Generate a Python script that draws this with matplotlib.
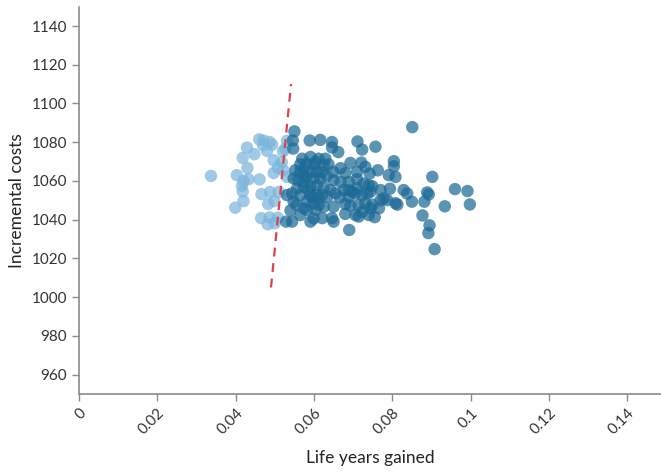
import matplotlib
matplotlib.use("Agg")
import matplotlib.pyplot as plt
import numpy as np

plt.rcParams['font.family'] = ['Lato', 'DejaVu Sans']

# probabilistic sensitivity analysis
# below threshold (light) and above threshold (dark)
light_lyg = [0.0337, 0.0460, 0.0471, 0.0487, 0.0470, 0.0493, 0.0429, 0.0480, 0.0448, 0.0418,
             0.0521, 0.0531, 0.0527, 0.0497, 0.0518, 0.0430, 0.0508, 0.0522, 0.0403, 0.0497,
             0.0531, 0.0433, 0.0461, 0.0420, 0.0416, 0.0418, 0.0466, 0.0488, 0.0510, 0.0420,
             0.0483, 0.0499, 0.0399, 0.0465, 0.0487, 0.0508, 0.0482, 0.0500]
light_cost = [1062.6, 1081.5, 1080.9, 1080.1, 1078.5, 1078.7, 1077.2, 1075.5, 1073.8, 1071.9,
              1075.3, 1080.7, 1076.7, 1070.7, 1069.7, 1066.7, 1066.8, 1065.5, 1063.0, 1064.1,
              1062.1, 1060.9, 1060.8, 1060.1, 1057.5, 1054.6, 1053.2, 1054.3, 1054.3, 1049.6,
              1048.1, 1049.6, 1046.2, 1040.8, 1041.2, 1041.0, 1037.6, 1038.2]

dark_lyg = [0.0851, 0.0550, 0.0546, 0.0547, 0.0589, 0.0616, 0.0646, 0.0646, 0.0662, 0.0711,
            0.0723, 0.0757, 0.0570, 0.0591, 0.0582, 0.0599, 0.0574, 0.0591, 0.0565, 0.0608,
            0.0612, 0.0629, 0.0625, 0.0621, 0.0693, 0.0721, 0.0731, 0.0804, 0.0804, 0.0650,
            0.0680, 0.0710, 0.0742, 0.0763, 0.0791, 0.0808, 0.0902, 0.0582, 0.0599, 0.0548,
            0.0552, 0.0574, 0.0616, 0.0650, 0.0668, 0.0689, 0.0710, 0.0727, 0.0740, 0.0749,
            0.0608, 0.0591, 0.0574, 0.0557, 0.0625, 0.0642, 0.0655, 0.0676, 0.0689, 0.0710,
            0.0697, 0.0706, 0.0723, 0.0736, 0.0744, 0.0770, 0.0794, 0.0829, 0.0838, 0.0889,
            0.0893, 0.0960, 0.0992, 0.0544, 0.0531, 0.0565, 0.0591, 0.0608, 0.0621, 0.0634,
            0.0666, 0.0689, 0.0595, 0.0582, 0.0599, 0.0548, 0.0612, 0.0625, 0.0650, 0.0680,
            0.0693, 0.0714, 0.0731, 0.0749, 0.0778, 0.0787, 0.0770, 0.0808, 0.0813, 0.0850,
            0.0882, 0.0934, 0.0998, 0.0574, 0.0604, 0.0540, 0.0582, 0.0565, 0.0599, 0.0544,
            0.0591, 0.0621, 0.0646, 0.0650, 0.0680, 0.0706, 0.0714, 0.0723, 0.0740, 0.0744,
            0.0766, 0.0755, 0.0877, 0.0895, 0.0892, 0.0908, 0.0690, 0.0529, 0.0565, 0.0604,
            0.0575, 0.0560, 0.0586, 0.0632, 0.0637, 0.0668, 0.0611, 0.0555]
dark_cost = [1087.8, 1085.6, 1080.9, 1076.7, 1080.9, 1081.2, 1080.1, 1077.3, 1074.9, 1080.4,
             1076.2, 1077.7, 1071.5, 1072.4, 1069.0, 1068.1, 1066.4, 1064.7, 1064.7, 1064.7,
             1071.5, 1071.5, 1068.1, 1064.7, 1069.3, 1069.5, 1067.3, 1070.2, 1067.6, 1064.7,
             1064.0, 1064.7, 1063.8, 1065.5, 1063.0, 1062.1, 1062.1, 1062.1, 1061.3, 1061.3,
             1065.5, 1059.5, 1061.3, 1060.4, 1059.5, 1059.5, 1060.9, 1058.7, 1057.8, 1057.3,
             1057.8, 1057.0, 1057.0, 1056.2, 1056.6, 1055.3, 1053.6, 1055.3, 1055.3, 1056.2,
             1054.4, 1053.6, 1052.7, 1053.6, 1054.4, 1055.3, 1056.0, 1055.3, 1053.5, 1054.1,
             1053.0, 1055.8, 1054.8, 1053.6, 1052.7, 1052.7, 1052.7, 1052.7, 1052.7, 1051.8,
             1051.5, 1051.8, 1051.5, 1049.3, 1048.5, 1049.3, 1047.6, 1046.7, 1046.7, 1048.1,
             1047.3, 1047.6, 1048.5, 1047.8, 1051.0, 1050.1, 1050.1, 1048.5, 1047.8, 1049.3,
             1049.3, 1046.9, 1047.9, 1045.9, 1045.0, 1044.8, 1045.0, 1042.4, 1040.6, 1039.0,
             1039.0, 1040.8, 1040.8, 1039.0, 1043.0, 1042.4, 1041.6, 1044.1, 1042.4, 1045.9,
             1045.9, 1041.3, 1042.2, 1037.1, 1033.1, 1024.8, 1034.7, 1039.0, 1068.6, 1069.8,
             1062.5, 1060.4, 1055.3, 1062.5, 1068.6, 1066.6, 1051.2, 1047.6]

# willingness-to-pay threshold (costs per life year gained)
wtp = 20500
wtp_cost = [1005, 1110]

x_ticks = [0, 0.02, 0.04, 0.06, 0.08, 0.1, 0.12, 0.14]
x_labels = ["0", "0.02", "0.04", "0.06", "0.08", "0.1", "0.12", "0.14"]
y_ticks = np.arange(960, 1141, 20)

fig = plt.figure(figsize=(6.61, 4.75), dpi=100)
ax = fig.add_axes([0.1195, 0.1705, 0.8805, 0.8155])

ax.scatter(light_lyg, light_cost, s=80, color="#7ab5dc", alpha=0.72, edgecolors="none", zorder=2)
ax.scatter(dark_lyg, dark_cost, s=80, color="#1c6a96", alpha=0.72, edgecolors="none", zorder=2)
ax.plot([c / wtp for c in wtp_cost], wtp_cost, color="#e0414b", lw=1.6,
        dashes=(4, 3), zorder=3)

ax.set_xlim(0, 0.1486)
ax.set_ylim(950, 1150)
ax.set_xticks(x_ticks)
ax.set_xticklabels(x_labels, rotation=45, ha="right", rotation_mode="anchor")
ax.set_yticks(y_ticks)

for s in ["top", "right"]:
    ax.spines[s].set_visible(False)
for s in ["left", "bottom"]:
    ax.spines[s].set_color("#8a8a8a")
    ax.spines[s].set_linewidth(1.2)
ax.tick_params(colors="#8a8a8a", labelcolor="#333333", labelsize=11, length=5, width=1)

ax.set_xlabel("Life years gained", fontsize=12.5, color="#222222", labelpad=9)
ax.set_ylabel("Incremental costs", fontsize=12.5, color="#222222", labelpad=5)

fig.savefig("out.png", dpi=100)
